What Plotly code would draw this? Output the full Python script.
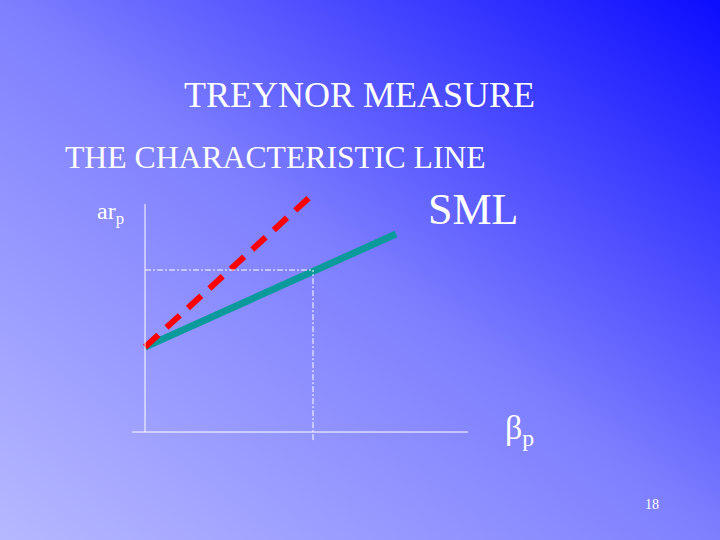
import base64
import plotly.graph_objects as go

# values (beta on x, average return on y)
sml_beta = [0.0, 1.494]
sml_ret = [0.525, 1.222]
char_beta = [0.0, 0.982]
char_ret = [0.525, 1.451]
market_beta = 1.0
market_ret = 1.0

W, H = 720, 540


def px(x):
    return x / W


def py(y):
    return 1 - y / H


# diagonal gradient background like the slide template
svg = (
    '<svg xmlns="http://www.w3.org/2000/svg" width="720" height="540" '
    'viewBox="0 0 720 540" preserveAspectRatio="none">'
    '<defs><linearGradient id="g" x1="0" y1="1" x2="1" y2="0">'
    '<stop offset="0" stop-color="#b6b8ff"/>'
    '<stop offset="0.5" stop-color="#7e7ffe"/>'
    '<stop offset="1" stop-color="#0c0cff"/>'
    '</linearGradient></defs>'
    '<rect width="720" height="540" fill="url(#g)"/></svg>'
)
bg = "data:image/svg+xml;base64," + base64.b64encode(svg.encode()).decode()

fig = go.Figure()

fig.add_trace(go.Scatter(x=sml_beta, y=sml_ret, mode="lines",
                         line=dict(color="#0a9a9c", width=7),
                         hoverinfo="skip", showlegend=False))
fig.add_trace(go.Scatter(x=char_beta, y=char_ret, mode="lines",
                         line=dict(color="#ff0000", width=6, dash="18px,11px"),
                         hoverinfo="skip", showlegend=False))

white = "#ffffff"
# axes
fig.add_shape(type="line", x0=-0.077, x1=1.923, y0=0, y1=0,
              line=dict(color=white, width=1))
fig.add_shape(type="line", x0=0, x1=0, y0=0, y1=1.407,
              line=dict(color=white, width=1))
# dash-dot guides to the market point
fig.add_shape(type="line", x0=market_beta, x1=market_beta, y0=-0.05, y1=market_ret,
              line=dict(color=white, width=1, dash="6px,2px,2px,2px"))
fig.add_shape(type="line", x0=0, x1=market_beta, y0=market_ret, y1=market_ret,
              line=dict(color=white, width=1, dash="6px,2px,2px,2px"))

serif = "Liberation Serif"
texts = [
    ("TREYNOR MEASURE", 359, 95, 36, "center"),
    ("THE CHARACTERISTIC LINE", 63, 157, 31.7, "left"),
    ("SML", 426, 209, 44, "left"),
    ("ar<sub>p</sub>", 95, 213, 24, "left"),
    ("&#946;<sub>p</sub>", 503, 430, 34, "left"),
    ("18", 652, 504, 14, "center"),
]
for t, x, y, s, anc in texts:
    fig.add_annotation(text=t, x=px(x), y=py(y), xref="paper", yref="paper",
                       xanchor=anc, yanchor="middle", showarrow=False,
                       font=dict(family=serif, size=s, color=white))

fig.add_layout_image(source=bg, xref="paper", yref="paper", x=0, y=1,
                     sizex=1, sizey=1, sizing="stretch", layer="below")

fig.update_layout(
    width=W, height=H,
    margin=dict(l=0, r=0, t=0, b=0),
    paper_bgcolor="#7e7ffe",
    plot_bgcolor="rgba(0,0,0,0)",
    xaxis=dict(domain=[px(120), px(480)], range=[-0.149, 1.994],
               visible=False, fixedrange=True),
    yaxis=dict(domain=[py(450), py(190)], range=[-0.111, 1.494],
               visible=False, fixedrange=True),
)

# drop the browser's default body margin so the slide fills the window
fig.write_html("out.html", config={"displayModeBar": False},
               post_script="document.body.style.margin='0';")
